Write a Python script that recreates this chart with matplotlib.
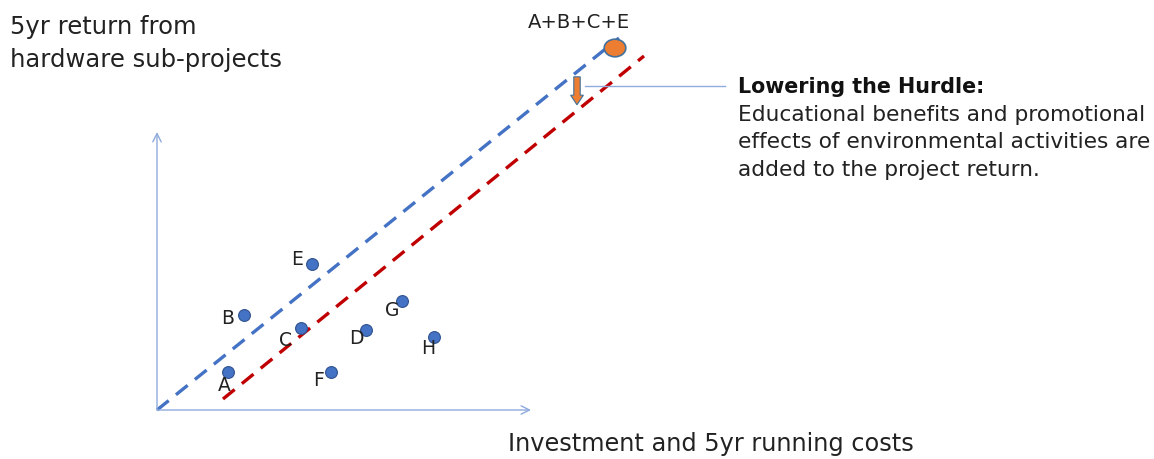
import matplotlib.pyplot as plt
from matplotlib.patches import Ellipse, FancyArrow

plt.rcParams['font.family'] = ['DejaVu Sans']

# sub-projects: cost vs 5yr return (arbitrary units, origin at axis corner)
labels = ["A", "B", "C", "D", "E", "F", "G", "H"]
cost = [17.8, 21.8, 36.0, 52.3, 38.8, 43.5, 61.3, 69.3]
ret = [9.5, 23.8, 20.5, 20.0, 36.5, 9.5, 27.3, 18.3]
# label offsets (dx, dy) in the same units
lab_dx = [-1.0, -4.2, -4.0, -2.5, -3.8, -3.0, -2.5, -1.5]
lab_dy = [-3.3, -0.8, -3.0, -2.0, 1.2, -2.0, -2.5, -2.8]

combo_label = "A+B+C+E"
combo = (114.5, 90.5)

# hurdle lines (before / after adding educational benefits)
hurdle_old_x = [0.0, 115.5]
hurdle_old_y = [0.0, 93.0]
hurdle_new_x = [16.5, 121.75]
hurdle_new_y = [2.75, 88.5]

y_title = ["5yr return from", "hardware sub-projects"]
x_title = "Investment and 5yr running costs"
note_head = "Lowering the Hurdle:"
note_body = ["Educational benefits and promotional",
             "effects of environmental activities are",
             "added to the project return."]

axis_color = "#8FAADC"
blue = "#4472C4"
red = "#C00000"
orange = "#ED7D31"
txt = "#222222"

fig = plt.figure(figsize=(11.54, 4.59), dpi=100)
ax = fig.add_axes([0, 0, 1, 1])
ax.set_xlim(-157 / 4, (1154 - 157) / 4)
ax.set_ylim(-(459 - 410) / 4, 410 / 4)
ax.axis("off")

# axes arrows
ax.annotate("", xy=(0, 69.5), xytext=(0, 0),
            arrowprops=dict(arrowstyle="->,head_length=0.6,head_width=0.3",
                            color=axis_color, lw=1.0, shrinkA=0, shrinkB=0))
ax.annotate("", xy=(93.5, 0), xytext=(0, 0),
            arrowprops=dict(arrowstyle="->,head_length=0.6,head_width=0.3",
                            color=axis_color, lw=1.0, shrinkA=0, shrinkB=0))

# hurdle lines
ax.plot(hurdle_old_x, hurdle_old_y, color=blue, lw=2.4, dashes=(4.5, 2.8))
ax.plot(hurdle_new_x, hurdle_new_y, color=red, lw=2.4, dashes=(4.5, 2.8))

# points
ax.plot(cost, ret, "o", color=blue, markeredgecolor="#2F528F",
        markeredgewidth=0.8, markersize=8.5, zorder=5)
for lab, x, y, dx, dy in zip(labels, cost, ret, lab_dx, lab_dy):
    ax.text(x + dx, y + dy, lab, fontsize=13.5, ha="center", va="center",
            color=txt, zorder=6)

# combined project
ax.add_patch(Ellipse(combo, 5.4, 4.4, facecolor=orange, edgecolor="#41719C",
                     lw=1.2, zorder=5))
ax.text(combo[0] - 9, combo[1] + 6.5, combo_label, fontsize=14,
        ha="center", va="center", color=txt)

# lowering arrow
ax.add_patch(FancyArrow(105, 83.3, 0, -7.0, width=1.6, head_width=3.2,
                        head_length=2.4, length_includes_head=True,
                        facecolor=orange, edgecolor="#41719C", lw=0.8, zorder=6))
ax.plot([107, 142], [81, 81], color=axis_color, lw=1.0)

# texts
for i, line in enumerate(y_title):
    fig.text(10 / 1154, 1 - (27 + 33 * i) / 459, line, fontsize=17.5,
             ha="left", va="center", color=txt)
fig.text(508 / 1154, 1 - 444 / 459, x_title, fontsize=17.3,
         ha="left", va="center", color=txt)
fig.text(738 / 1154, 1 - 87 / 459, note_head, fontsize=14.9,
         fontweight="bold", ha="left", va="center", color="#111111")
for i, line in enumerate(note_body):
    fig.text(738 / 1154, 1 - (115 + 27.5 * i) / 459, line, fontsize=15.6,
             ha="left", va="center", color=txt)

fig.savefig("out.png", dpi=100, facecolor="white")
